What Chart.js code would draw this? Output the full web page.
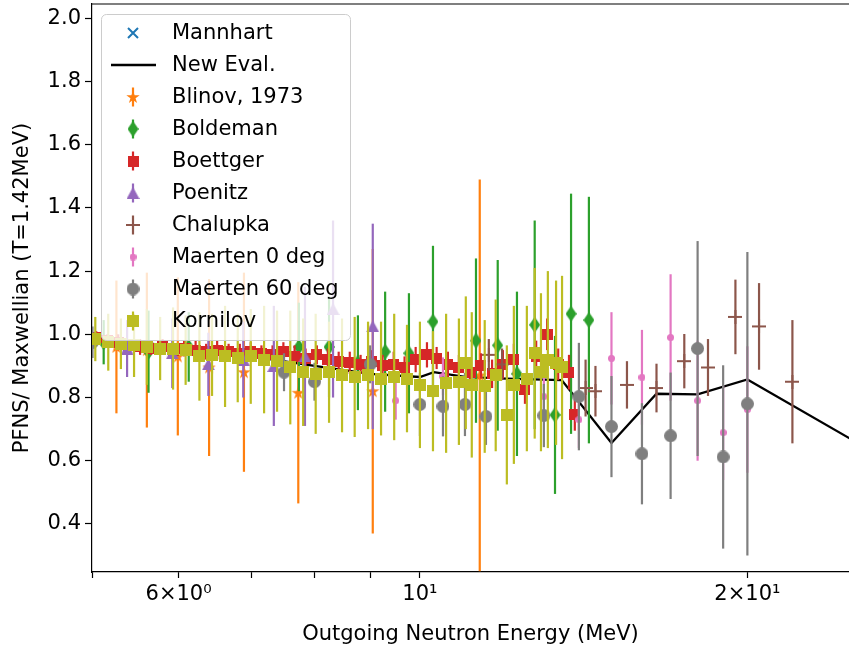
<!DOCTYPE html>
<html>
<head>
<meta charset="utf-8">
<title>PFNS / Maxwellian</title>
<script src="https://cdn.jsdelivr.net/npm/chart.js@4/dist/chart.umd.min.js"></script>
<style>
    html, body { margin: 0; padding: 0; background: #ffffff; }
    #pfnsChart { display: block; }
</style>
</head>
<body>
<canvas id="pfnsChart" width="849" height="647"></canvas>
<script>
// Energies in MeV, values are PFNS / Maxwellian (T = 1.42 MeV), errors are 1 sigma.
const mannhartE = [];
const mannhartV = [];

const newEvalE = [5.0, 5.5, 6.0, 7.0, 8.0, 9.0, 10.0, 10.3, 11.0, 12.0, 13.5, 15.0, 16.5, 18.0, 20.0, 25.0];
const newEvalV = [0.985, 0.975, 0.96, 0.93, 0.9, 0.875, 0.865, 0.88, 0.865, 0.86, 0.855, 0.656, 0.812, 0.81, 0.857, 0.665];

const blinovE = [5.26, 5.61, 5.99, 6.40, 6.89, 7.73, 9.05, 11.35];
const blinovV = [0.96, 0.95, 0.93, 0.895, 0.88, 0.815, 0.82, 0.87];
const blinovErr = [0.21, 0.245, 0.25, 0.28, 0.315, 0.35, 0.45, 0.62];

const boldemanE = [5.12, 5.63, 6.13, 7.74, 8.25, 8.77, 9.29, 9.77, 10.28, 11.26, 11.79, 12.28, 12.75, 13.31, 13.77, 14.30];
const boldemanV = [0.975, 0.945, 0.96, 0.96, 0.96, 0.91, 0.945, 0.94, 1.04, 0.98, 0.965, 0.875, 1.03, 0.745, 1.065, 1.045];
const boldemanErr = [0.07, 0.13, 0.11, 0.14, 0.16, 0.15, 0.19, 0.19, 0.24, 0.26, 0.27, 0.26, 0.33, 0.25, 0.38, 0.39];

const boettgerE = [5.04, 5.16, 5.28, 5.40, 5.53, 5.66, 5.80, 5.93, 6.07, 6.22, 6.36, 6.51, 6.67, 6.83, 6.99,
    7.15, 7.32, 7.49, 7.67, 7.85, 8.04, 8.23, 8.42, 8.62, 8.82, 9.03, 9.24, 9.46, 9.68, 9.91,
    10.15, 10.36, 10.61, 10.86, 11.12, 11.38, 11.65, 11.92, 12.20, 12.49, 12.79, 13.09, 13.40, 13.71, 13.88];
const boettgerV = [0.99, 0.98, 0.975, 0.965, 0.96, 0.955, 0.96, 0.95, 0.955, 0.95, 0.945, 0.95, 0.945, 0.94, 0.945,
    0.94, 0.935, 0.945, 0.93, 0.925, 0.935, 0.92, 0.915, 0.91, 0.905, 0.915, 0.9, 0.905, 0.895, 0.92,
    0.935, 0.925, 0.905, 0.895, 0.88, 0.9, 0.875, 0.905, 0.92, 0.825, 0.93, 1.0, 0.905, 0.88, 0.745];
const boettgerErr = [0.02, 0.02, 0.025, 0.02, 0.025, 0.02, 0.025, 0.02, 0.025, 0.03, 0.025, 0.03, 0.025, 0.03, 0.03,
    0.025, 0.03, 0.03, 0.035, 0.03, 0.03, 0.035, 0.03, 0.035, 0.03, 0.035, 0.035, 0.04, 0.035, 0.04,
    0.04, 0.035, 0.04, 0.04, 0.045, 0.04, 0.045, 0.045, 0.05, 0.045, 0.05, 0.05, 0.05, 0.055, 0.05];

const poenitzE = [5.38, 5.92, 6.39, 6.88, 7.34, 7.84, 8.32, 9.05];
const poenitzV = [0.955, 0.94, 0.905, 0.92, 0.9, 0.93, 1.08, 1.025];
const poenitzErr = [0.09, 0.11, 0.1, 0.12, 0.19, 0.22, 0.28, 0.325];

const chalupkaE = [11.57, 11.9, 14.2, 14.5, 15.5, 16.5, 17.5, 18.4, 19.5, 20.5, 22.0];
const chalupkaV = [0.935, 0.905, 0.83, 0.82, 0.84, 0.83, 0.915, 0.895, 1.055, 1.025, 0.85];
const chalupkaErr = [0.05, 0.05, 0.09, 0.08, 0.075, 0.077, 0.086, 0.09, 0.118, 0.137, 0.195];

const maerten0E = [9.5, 10.5, 13.0, 14.0, 15.0, 16.0, 17.0, 18.0, 19.0, 20.0];
const maerten0V = [0.79, 0.867, 0.803, 0.73, 0.924, 0.864, 0.99, 0.79, 0.689, 0.762];
const maerten0Err = [0.06, 0.06, 0.08, 0.09, 0.146, 0.15, 0.2, 0.19, 0.15, 0.2];

const maerten60E = [5.0, 7.5, 8.0, 9.0, 10.0, 10.5, 11.0, 11.5, 13.0, 14.0, 15.0, 16.0, 17.0, 18.0, 19.0, 20.0];
const maerten60V = [0.975, 0.88, 0.85, 0.905, 0.778, 0.772, 0.778, 0.74, 0.743, 0.803, 0.708, 0.622, 0.679, 0.955, 0.612, 0.78];
const maerten60Err = [0.05, 0.06, 0.06, 0.06, 0.1, 0.095, 0.1, 0.09, 0.1, 0.17, 0.16, 0.16, 0.2, 0.34, 0.29, 0.48];

const kornilovE = [5.03, 5.17, 5.31, 5.46, 5.61, 5.77, 5.93, 6.09, 6.27, 6.44, 6.62, 6.80, 6.99, 7.19, 7.39,
    7.60, 7.81, 8.02, 8.25, 8.48, 8.71, 8.96, 9.21, 9.47, 9.73, 10.0, 10.28, 10.57, 10.86, 11.02,
    11.16, 11.47, 11.74, 12.02, 12.20, 12.54, 12.75, 12.92, 13.11, 13.34, 13.51];
const kornilovV = [0.985, 0.975, 0.97, 0.965, 0.96, 0.955, 0.955, 0.95, 0.93, 0.935, 0.93, 0.925, 0.93, 0.92, 0.915,
    0.895, 0.88, 0.875, 0.88, 0.87, 0.865, 0.87, 0.86, 0.865, 0.86, 0.84, 0.82, 0.845, 0.85, 0.91,
    0.84, 0.835, 0.87, 0.745, 0.84, 0.86, 0.94, 0.88, 0.92, 0.91, 0.895];
const kornilovErr = [0.07, 0.09, 0.08, 0.10, 0.12, 0.10, 0.13, 0.11, 0.14, 0.13, 0.16, 0.14, 0.15, 0.17, 0.16,
    0.18, 0.17, 0.19, 0.16, 0.18, 0.19, 0.17, 0.18, 0.20, 0.17, 0.20, 0.19, 0.22, 0.20, 0.21,
    0.23, 0.21, 0.24, 0.22, 0.25, 0.23, 0.27, 0.25, 0.28, 0.26, 0.29];

const xTickValues = [5, 6, 7, 8, 9, 10, 20];
const xTickLabels = ["", "6×10⁰", "", "", "", "10¹", "2×10¹"];
const yTickValues = [0.4, 0.6, 0.8, 1.0, 1.2, 1.4, 1.6, 1.8, 2.0];


// Small offscreen canvases used as point styles (matplotlib-like markers)
function makeMarker(width, height, paint) {
    const canvas = document.createElement("canvas");
    canvas.width = width;
    canvas.height = height;
    const g = canvas.getContext("2d");
    paint(g, width, height);
    return canvas;
}

function circleMarker(size, color) {
    return makeMarker(size, size, function (g, w, h) {
        g.fillStyle = color;
        g.beginPath();
        g.arc(w / 2, h / 2, size / 2, 0, Math.PI * 2);
        g.fill();
    });
}

function squareMarker(size, color) {
    return makeMarker(size, size, function (g, w, h) {
        g.fillStyle = color;
        g.fillRect(0, 0, w, h);
    });
}

function polygonMarker(width, height, color, points) {
    return makeMarker(width, height, function (g, w, h) {
        g.fillStyle = color;
        g.beginPath();
        points.forEach(function (p, i) {
            const px = p[0] * w;
            const py = p[1] * h;
            if (i === 0) {
                g.moveTo(px, py);
            } else {
                g.lineTo(px, py);
            }
        });
        g.closePath();
        g.fill();
    });
}

function starMarker(size, color) {
    const pts = [];
    for (let k = 0; k < 10; k++) {
        const r = k % 2 === 0 ? 0.5 : 0.5 * 0.381966;
        const a = -Math.PI / 2 + k * Math.PI / 5;
        pts.push([0.5 + r * Math.cos(a), 0.53 + r * Math.sin(a)]);
    }
    return polygonMarker(size, size, color, pts);
}

function crossMarker(size, color, lineWidth, diagonal) {
    return makeMarker(size, size, function (g, w, h) {
        g.strokeStyle = color;
        g.lineWidth = lineWidth;
        g.beginPath();
        if (diagonal) {
            g.moveTo(1, 1); g.lineTo(w - 1, h - 1);
            g.moveTo(w - 1, 1); g.lineTo(1, h - 1);
        } else {
            g.moveTo(w / 2, 0); g.lineTo(w / 2, h);
            g.moveTo(0, h / 2); g.lineTo(w, h / 2);
        }
        g.stroke();
    });
}


function series(label, xs, ys, errs, color, marker, order) {
    return {
        label: label,
        data: xs.map(function (e, i) {
            return { x: e, y: ys[i] };
        }),
        yErr: errs,
        borderColor: color,
        backgroundColor: color,
        pointStyle: marker,
        pointRadius: 6,
        pointHoverRadius: 6,
        showLine: false,
        clip: 0,
        order: order
    };
}


// Vertical error bars, drawn just under each dataset's own markers
const errorBarPlugin = {
    id: "errorBars",
    beforeDatasetDraw: function (chart, args) {
        const dataset = chart.data.datasets[args.index];
        if (!dataset.yErr) {
            return;
        }
        const ctx = chart.ctx;
        const area = chart.chartArea;
        const xScale = chart.scales.x;
        const yScale = chart.scales.y;

        ctx.save();
        ctx.beginPath();
        ctx.rect(area.left, area.top, area.right - area.left, area.bottom - area.top);
        ctx.clip();
        ctx.strokeStyle = dataset.borderColor;
        ctx.lineWidth = 2.2;
        dataset.data.forEach(function (point, i) {
            const px = xScale.getPixelForValue(point.x);
            ctx.beginPath();
            ctx.moveTo(px, yScale.getPixelForValue(point.y - dataset.yErr[i]));
            ctx.lineTo(px, yScale.getPixelForValue(point.y + dataset.yErr[i]));
            ctx.stroke();
        });
        ctx.restore();
    }
};


// Top spine and the framed legend in the upper left corner
const frameLegendPlugin = {
    id: "frameLegend",
    afterDraw: function (chart) {
        const ctx = chart.ctx;
        const area = chart.chartArea;

        ctx.save();
        ctx.strokeStyle = "#000000";
        ctx.lineWidth = 1.2;
        ctx.beginPath();
        ctx.moveTo(area.left, area.top);
        ctx.lineTo(area.right, area.top);
        ctx.stroke();

        ctx.beginPath();
        ctx.roundRect(101.5, 14.5, 249, 326, 5);
        ctx.fillStyle = "rgba(255, 255, 255, 0.8)";
        ctx.fill();
        ctx.strokeStyle = "#cccccc";
        ctx.lineWidth = 1;
        ctx.stroke();

        ctx.font = "21px 'DejaVu Sans'";
        ctx.textBaseline = "middle";
        ctx.fillStyle = "#000000";

        chart.data.datasets.forEach(function (dataset, i) {
            const cy = 33 + 32 * i;
            const cx = 133;

            if (dataset.showLine) {
                ctx.strokeStyle = dataset.borderColor;
                ctx.lineWidth = 2.3;
                ctx.beginPath();
                ctx.moveTo(111, cy);
                ctx.lineTo(156, cy);
                ctx.stroke();
            } else {
                if (dataset.yErr) {
                    ctx.strokeStyle = dataset.borderColor;
                    ctx.lineWidth = 2.2;
                    ctx.beginPath();
                    ctx.moveTo(cx, cy - 9.5);
                    ctx.lineTo(cx, cy + 9.5);
                    ctx.stroke();
                }
                const m = dataset.pointStyle;
                ctx.drawImage(m, cx - m.width / 2, cy - m.height / 2);
            }

            ctx.fillText(dataset.label, 172, cy + 1);
        });
        ctx.restore();
    }
};


Chart.defaults.font.family = "'DejaVu Sans', sans-serif";
Chart.defaults.font.size = 21;
Chart.defaults.color = "#000000";

const datasets = [
    series("Mannhart", mannhartE, mannhartV, null, "#1f77b4",
        crossMarker(12, "#1f77b4", 2, true), 10),
    {
        label: "New Eval.",
        data: newEvalE.map(function (e, i) {
            return { x: e, y: newEvalV[i] };
        }),
        borderColor: "#000000",
        backgroundColor: "#000000",
        borderWidth: 2.3,
        showLine: true,
        pointRadius: 0,
        tension: 0,
        clip: 0,
        order: 9
    },
    series("Blinov, 1973", blinovE, blinovV, blinovErr, "#ff7f0e",
        starMarker(14, "#ff7f0e"), 8),
    series("Boldeman", boldemanE, boldemanV, boldemanErr, "#2ca02c",
        polygonMarker(11, 16, "#2ca02c", [[0.5, 0], [1, 0.5], [0.5, 1], [0, 0.5]]), 7),
    series("Boettger", boettgerE, boettgerV, boettgerErr, "#d62728",
        squareMarker(11, "#d62728"), 6),
    series("Poenitz", poenitzE, poenitzV, poenitzErr, "#9467bd",
        polygonMarker(13, 12, "#9467bd", [[0.5, 0], [1, 1], [0, 1]]), 5),
    series("Chalupka", chalupkaE, chalupkaV, chalupkaErr, "#8c564b",
        crossMarker(14, "#8c564b", 2, false), 4),
    series("Maerten 0 deg", maerten0E, maerten0V, maerten0Err, "#e377c2",
        circleMarker(7, "#e377c2"), 3),
    series("Maerten 60 deg", maerten60E, maerten60V, maerten60Err, "#7f7f7f",
        circleMarker(13, "#7f7f7f"), 2),
    series("Kornilov", kornilovE, kornilovV, kornilovErr, "#bcbd22",
        squareMarker(12, "#bcbd22"), 1)
];

new Chart(document.getElementById("pfnsChart"), {
    type: "scatter",
    data: { datasets: datasets },
    options: {
        responsive: false,
        devicePixelRatio: 1,
        animation: false,
        events: [],
        layout: {
            autoPadding: false,
            padding: { top: 4, right: 0, bottom: 0, left: 0 }
        },
        plugins: {
            legend: { display: false },
            tooltip: { enabled: false }
        },
        scales: {
            x: {
                type: "logarithmic",
                position: "bottom",
                min: 4.995,
                max: 24.8,
                afterBuildTicks: function (scale) {
                    scale.ticks = xTickValues.map(function (v) {
                        return { value: v };
                    });
                },
                afterFit: function (scale) {
                    scale.height = 75;
                    scale.paddingLeft = 0;
                    scale.paddingRight = 0;
                },
                ticks: {
                    autoSkip: false,
                    maxRotation: 0,
                    padding: 4,
                    callback: function (value) {
                        const i = xTickValues.indexOf(value);
                        return i >= 0 ? xTickLabels[i] : "";
                    }
                },
                grid: {
                    drawOnChartArea: false,
                    tickLength: 6,
                    tickColor: "#000000",
                    tickWidth: 1.2
                },
                border: { color: "#000000", width: 1.2 },
                title: {
                    display: true,
                    text: "Outgoing Neutron Energy (MeV)",
                    padding: { top: 2, bottom: 0 }
                }
            },
            y: {
                type: "linear",
                min: 0.248,
                max: 2.045,
                afterBuildTicks: function (scale) {
                    scale.ticks = yTickValues.map(function (v) {
                        return { value: v };
                    });
                },
                afterFit: function (scale) {
                    scale.width = 92;
                    scale.paddingTop = 0;
                    scale.paddingBottom = 0;
                },
                ticks: {
                    padding: 4,
                    callback: function (value) {
                        return Number(value).toFixed(1);
                    }
                },
                grid: {
                    drawOnChartArea: false,
                    tickLength: 7,
                    tickColor: "#000000",
                    tickWidth: 1.2
                },
                border: { color: "#000000", width: 1.2 },
                title: {
                    display: true,
                    text: "PFNS/ Maxwellian (T=1.42MeV)",
                    padding: { top: 10, bottom: 0 }
                }
            }
        }
    },
    plugins: [errorBarPlugin, frameLegendPlugin]
});
</script>
</body>
</html>
